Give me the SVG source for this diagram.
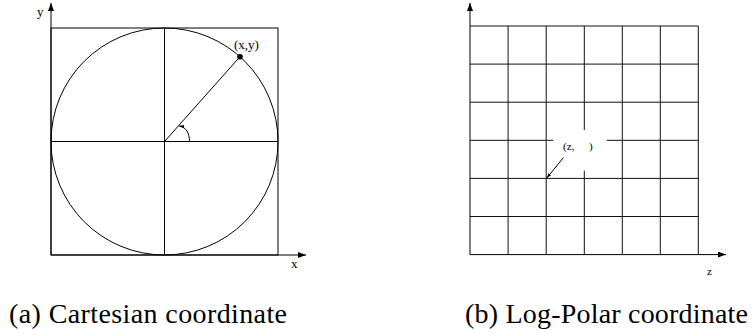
<svg xmlns="http://www.w3.org/2000/svg" width="752" height="334" viewBox="0 0 752 334">
<defs>
<style>
.ln{stroke:#000;stroke-width:1;fill:none}
.gr{stroke:#111;stroke-width:1;fill:none}
.lbl{font-family:"Liberation Serif","Times New Roman",serif;fill:#000}
</style>
<marker id="ah" viewBox="0 0 8 6" refX="8" refY="3" markerWidth="8" markerHeight="6" markerUnits="userSpaceOnUse" orient="auto">
<path d="M0,0 L8,3 L0,6 Z" fill="#000"/>
</marker>
<marker id="ahs" viewBox="0 0 6 4" refX="6" refY="2" markerWidth="5" markerHeight="4" markerUnits="userSpaceOnUse" orient="auto">
<path d="M0,0 L6,2 L0,4 Z" fill="#000"/>
</marker>
</defs>
<rect width="752" height="334" fill="#fff"/>
<g id="cartesian">
<rect class="ln" x="51" y="28" width="227" height="227"/>
<circle class="ln" cx="164.5" cy="141.5" r="113.5"/>
<line class="ln" x1="164.5" y1="28" x2="164.5" y2="255"/>
<line class="ln" x1="51" y1="141.5" x2="278" y2="141.5"/>
<line class="ln" x1="164.5" y1="141.5" x2="240" y2="56.7"/>
<circle cx="240" cy="56.7" r="2.8" fill="#000"/>
<path class="ln" d="M189.5,141.5 C189.5,133 186,127 179,126" marker-end="url(#ahs)"/>
<text class="lbl" x="234" y="49" font-size="13">(x,y)</text>
</g>
<g id="axes-a">
<line class="ln" x1="51" y1="255" x2="51" y2="3" marker-end="url(#ah)"/>
<line class="ln" x1="51" y1="255" x2="306" y2="255" marker-end="url(#ah)"/>
<text class="lbl" x="37" y="16" font-size="13">y</text>
<text class="lbl" x="291" y="268" font-size="13">x</text>
</g>
<g id="logpolar">
<g class="gr">
<line x1="508.1" y1="26" x2="508.1" y2="254.6"/>
<line x1="546.2" y1="26" x2="546.2" y2="254.6"/>
<line x1="584.3" y1="26" x2="584.3" y2="130"/>
<line x1="584.3" y1="170.7" x2="584.3" y2="254.6"/>
<line x1="622.3" y1="26" x2="622.3" y2="254.6"/>
<line x1="660.3" y1="26" x2="660.3" y2="254.6"/>
<line x1="698.3" y1="26" x2="698.3" y2="254.6"/>
<line x1="470" y1="26" x2="698.3" y2="26"/>
<line x1="470" y1="64.1" x2="698.3" y2="64.1"/>
<line x1="470" y1="102.2" x2="698.3" y2="102.2"/>
<line x1="470" y1="140.3" x2="553.3" y2="140.3"/>
<line x1="606.7" y1="140.3" x2="698.3" y2="140.3"/>
<line x1="470" y1="178.4" x2="698.3" y2="178.4"/>
<line x1="470" y1="216.5" x2="698.3" y2="216.5"/>
</g>
<text class="lbl" x="563" y="149.5" font-size="11">(z,</text>
<text class="lbl" x="589" y="149.5" font-size="11">)</text>
</g>
<g id="connectors">
<line class="ln" x1="563.3" y1="157.7" x2="546.8" y2="178" marker-end="url(#ahs)"/>
</g>
<g id="axes-b">
<line class="ln" x1="470" y1="254.6" x2="470" y2="3" marker-end="url(#ah)"/>
<line class="ln" x1="470" y1="254.6" x2="726" y2="254.6" marker-end="url(#ah)"/>
<text class="lbl" x="707" y="275" font-size="11">z</text>
</g>
<g id="captions">
<text x="9" y="323" font-family="'Liberation Serif', 'Times New Roman', serif" font-size="28" fill="#000" textLength="278" lengthAdjust="spacing">(a) Cartesian coordinate</text>
<text x="465" y="323" font-family="'Liberation Serif', 'Times New Roman', serif" font-size="28" fill="#000" textLength="283" lengthAdjust="spacing">(b) Log-Polar coordinate</text>
</g>
</svg>
